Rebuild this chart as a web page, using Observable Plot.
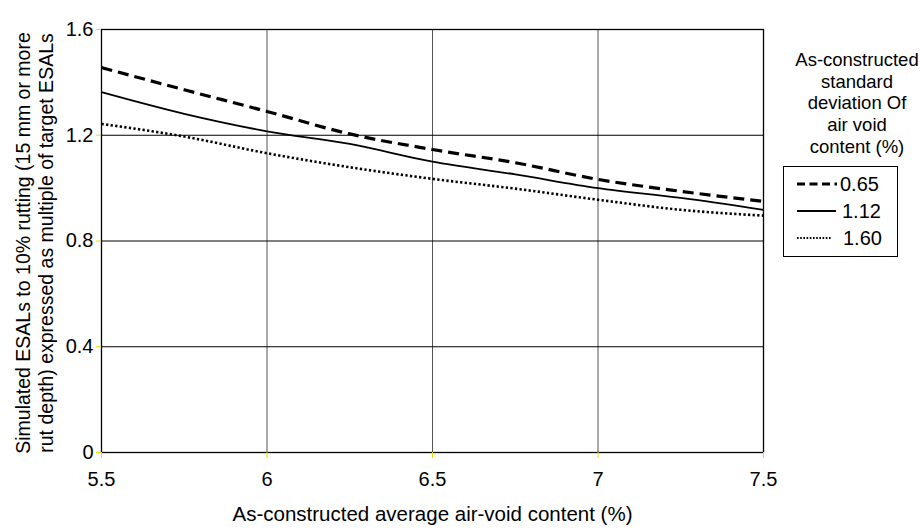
<!DOCTYPE html>
<html>
<head>
<meta charset="utf-8">
<script src="https://cdn.jsdelivr.net/npm/d3@7"></script>
<script src="https://cdn.jsdelivr.net/npm/@observablehq/plot@0.6"></script>
<style>
  body { margin: 0; background: #fff; font-family: "Liberation Sans", Arial, sans-serif; }
  #wrap { position: relative; width: 922px; height: 529px; }
  #legend-title { position: absolute; left: 790px; top: 49px; width: 134px; text-align: center;
    font-size: 18.5px; line-height: 21.7px; color: #000; }
  #legend-box { position: absolute; left: 783px; top: 166px; width: 115px; height: 91px;
    border: 1px solid #000; box-sizing: border-box; }
  .item { position: absolute; left: 0; width: 112px; height: 22px; font-size: 20px; color: #000; }
  .item svg { position: absolute; left: 12px; top: 0; }
  .item span { position: absolute; top: 0; line-height: 22px; }
</style>
</head>
<body>
<div id="wrap"></div>
<script>
// Average air-void content (%) along the x axis
const airVoid = [5.5, 5.75, 6, 6.25, 6.5, 6.75, 7, 7.25, 7.5];
// Simulated ESALs (multiple of target) for each standard deviation of air-void content
const sd065 = [1.456, 1.372, 1.290, 1.205, 1.146, 1.096, 1.033, 0.988, 0.950];
const sd112 = [1.363, 1.281, 1.215, 1.167, 1.100, 1.052, 1.000, 0.963, 0.918];
const sd160 = [1.243, 1.195, 1.132, 1.079, 1.035, 0.998, 0.956, 0.918, 0.896];
const seriesNames = ["0.65", "1.12", "1.60"];
const xTicks = [5.5, 6, 6.5, 7, 7.5];
const yTicks = [0, 0.4, 0.8, 1.2, 1.6];

const styles = {
  "0.65": {strokeWidth: 3.2, strokeDasharray: "11,6"},
  "1.12": {strokeWidth: 1.8},
  "1.60": {strokeWidth: 2.6, strokeDasharray: "2.3,2.3"}
};
const seriesValues = {"0.65": sd065, "1.12": sd112, "1.60": sd160};
const rows = name => airVoid.map((x, i) => ({x, y: seriesValues[name][i]}));

const font = '"Liberation Sans", Arial, sans-serif';

const chart = Plot.plot({
  width: 922,
  height: 529,
  marginLeft: 101,
  marginRight: 159,
  marginTop: 29,
  marginBottom: 77,
  style: {fontFamily: font, fontSize: "20px", color: "#000", background: "#fff"},
  x: {domain: [5.5, 7.5]},
  y: {domain: [0, 1.6]},
  marks: [
    Plot.gridX(xTicks, {stroke: "#555", strokeOpacity: 1, strokeWidth: 1}),
    Plot.gridY(yTicks, {stroke: "#000", strokeOpacity: 1, strokeWidth: 1}),
    Plot.frame({stroke: "#000", strokeWidth: 1.3}),
    Plot.axisX(xTicks, {tickSize: 6, tickPadding: 13, stroke: "#e8e000", fill: "#000",
      tickFormat: d3.format("~g"), label: null, fontSize: 20}),
    Plot.axisY(yTicks, {tickSize: 5, tickPadding: 3, stroke: "#e8e000", fill: "#000",
      tickFormat: d3.format("~g"), label: null, fontSize: 20}),
    ...seriesNames.map(name => Plot.line(rows(name), {
      x: "x", y: "y", stroke: "#000", curve: "monotone-x", strokeLinecap: "butt", ...styles[name]
    })),
    Plot.text(["Simulated ESALs to 10% rutting (15 mm or more\nrut depth) expressed as multiple of target ESALs"], {
      frameAnchor: "left", rotate: -90, dx: -67.5, dy: 2, textAnchor: "middle", lineAnchor: "middle",
      lineHeight: 1.18, fontSize: 19.5, fill: "#000"
    }),
    Plot.text(["As-constructed average air-void content (%)"], {
      frameAnchor: "bottom", dy: 62, textAnchor: "middle", lineAnchor: "middle",
      fontSize: 20.5, fill: "#000"
    })
  ]
});

const wrap = document.getElementById("wrap");
wrap.appendChild(chart);

// Legend: title and the three line styles
const title = document.createElement("div");
title.id = "legend-title";
title.innerHTML = "As-constructed<br>standard<br>deviation Of<br>air void<br>content (%)";
wrap.appendChild(title);

const box = document.createElement("div");
box.id = "legend-box";
const itemTops = [6, 33, 60];
const legendLine = {
  "0.65": {len: 41, width: 3.2, dash: "8,4.5"},
  "1.12": {len: 40, width: 1.8, dash: null},
  "1.60": {len: 36, width: 2.2, dash: "1.6,1.6"}
};
const textLeft = {"0.65": 56, "1.12": 58, "1.60": 59};
seriesNames.forEach((name, i) => {
  const item = document.createElement("div");
  item.className = "item";
  item.style.top = itemTops[i] + "px";
  const l = legendLine[name];
  item.innerHTML = `<svg width="44" height="22"><line x1="1" x2="${l.len}" y1="11" y2="11" stroke="#000"
      stroke-width="${l.width}" ${l.dash ? `stroke-dasharray="${l.dash}"` : ""}/></svg><span style="left:${textLeft[name]}px">${name}</span>`;
  box.appendChild(item);
});
wrap.appendChild(box);
</script>
</body>
</html>
